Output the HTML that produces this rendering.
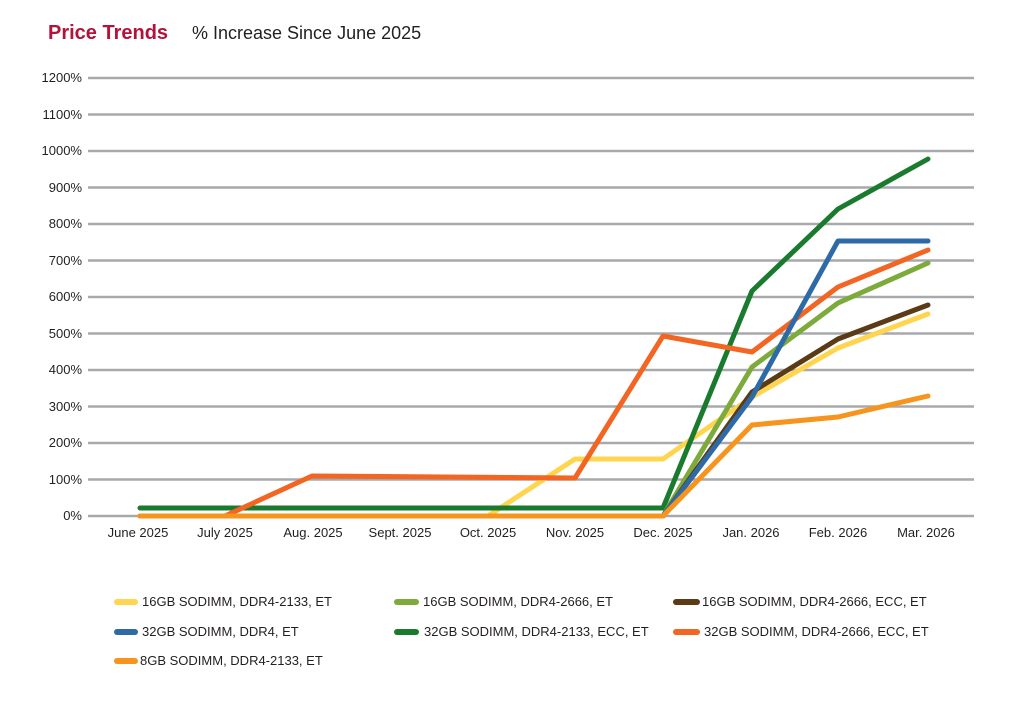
<!DOCTYPE html>
<html><head><meta charset="utf-8"><style>
body{margin:0;background:#fff;}
svg text{font-family:"Liberation Sans Narrow","Liberation Sans",sans-serif;fill:#231f20;}
</style></head><body>
<svg width="1024" height="698" viewBox="0 0 1024 698" xmlns="http://www.w3.org/2000/svg">
<text x="48" y="39" font-family="Liberation Sans" style="font-family:'Liberation Sans',sans-serif;font-size:20px;font-weight:bold;fill:#b3123b">Price Trends</text>
<text x="192" y="39" style="font-family:'Liberation Sans',sans-serif;font-size:18px;fill:#231f20">% Increase Since June 2025</text>
<g stroke="#a7a9ac" stroke-width="2.5">
<line x1="88" x2="974" y1="78" y2="78"/><line x1="88" x2="974" y1="114.5" y2="114.5"/>
<line x1="88" x2="974" y1="151" y2="151"/><line x1="88" x2="974" y1="187.5" y2="187.5"/>
<line x1="88" x2="974" y1="224" y2="224"/><line x1="88" x2="974" y1="260.5" y2="260.5"/>
<line x1="88" x2="974" y1="297" y2="297"/><line x1="88" x2="974" y1="333.5" y2="333.5"/>
<line x1="88" x2="974" y1="370" y2="370"/><line x1="88" x2="974" y1="406.5" y2="406.5"/>
<line x1="88" x2="974" y1="443" y2="443"/><line x1="88" x2="974" y1="479.5" y2="479.5"/>
<line x1="88" x2="974" y1="516" y2="516"/>
</g>
<g font-size="13" text-anchor="end">
<text x="82" y="82">1200%</text><text x="82" y="119">1100%</text><text x="82" y="155">1000%</text>
<text x="82" y="192">900%</text><text x="82" y="228">800%</text><text x="82" y="265">700%</text>
<text x="82" y="301">600%</text><text x="82" y="338">500%</text><text x="82" y="374">400%</text>
<text x="82" y="411">300%</text><text x="82" y="447">200%</text><text x="82" y="484">100%</text>
<text x="82" y="520">0%</text>
</g>
<g font-size="13" text-anchor="middle">
<text x="138" y="537">June 2025</text><text x="225" y="537">July 2025</text><text x="313" y="537">Aug. 2025</text>
<text x="400" y="537">Sept. 2025</text><text x="488" y="537">Oct. 2025</text><text x="575" y="537">Nov. 2025</text>
<text x="663" y="537">Dec. 2025</text><text x="751" y="537">Jan. 2026</text><text x="838" y="537">Feb. 2026</text>
<text x="926" y="537">Mar. 2026</text>
</g>
<g fill="none" stroke-width="5" stroke-linejoin="round" stroke-linecap="round">
<polyline stroke="#ffd54f" points="140,516 488,516 575,459 663,459 752,397 838,348 928,314"/>
<polyline stroke="#1a7a2e" points="140,508 663,508 752,291 838,209 928,159"/>
<polyline stroke="#f26522" points="140,516 225,516 312,476 575,478 663,336 752,352 838,287 928,250"/>
<polyline stroke="#7cab3c" points="663,516 752,367 838,303 928,263"/>
<polyline stroke="#5b3a16" points="663,516 752,392 838,339 928,305"/>
<polyline stroke="#2e6ba6" points="663,516 752,397 838,241 928,241"/>
<polyline stroke="#f7941d" points="140,516 663,516 752,425 838,417 928,396"/>
</g>
<g stroke-width="6" stroke-linecap="round">
<line x1="117" x2="135" y1="602" y2="602" stroke="#ffd54f"/>
<line x1="397" x2="416" y1="602" y2="602" stroke="#7cab3c"/>
<line x1="676" x2="697" y1="602" y2="602" stroke="#5b3a16"/>
<line x1="117" x2="135" y1="632" y2="632" stroke="#2e6ba6"/>
<line x1="397" x2="416" y1="632" y2="632" stroke="#1a7a2e"/>
<line x1="676" x2="697" y1="632" y2="632" stroke="#f26522"/>
<line x1="117" x2="135" y1="661" y2="661" stroke="#f7941d"/>
</g>
<g font-size="13">
<text x="142" y="606">16GB SODIMM, DDR4-2133,  ET</text>
<text x="423" y="606">16GB SODIMM, DDR4-2666, ET</text>
<text x="702" y="606">16GB SODIMM, DDR4-2666, ECC, ET</text>
<text x="142" y="636">32GB SODIMM, DDR4, ET</text>
<text x="424" y="636">32GB SODIMM, DDR4-2133, ECC, ET</text>
<text x="704" y="636">32GB SODIMM, DDR4-2666, ECC, ET</text>
<text x="140" y="665">8GB SODIMM, DDR4-2133, ET</text>
</g>
</svg>
</body></html>
